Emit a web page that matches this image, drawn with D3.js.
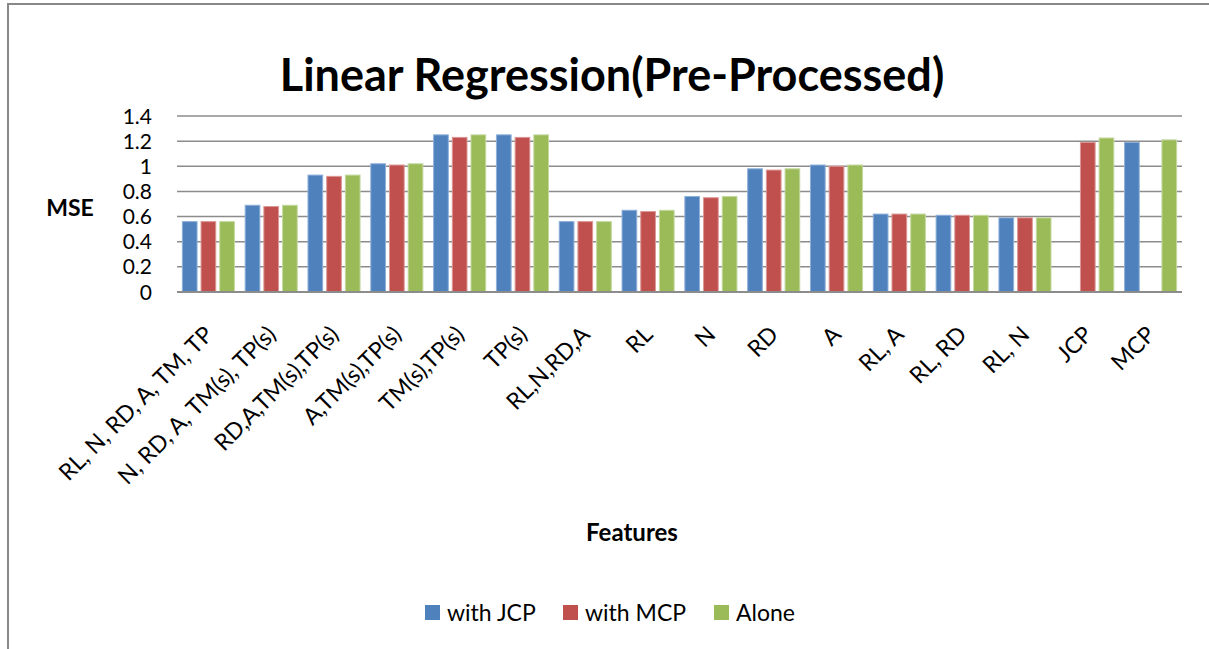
<!DOCTYPE html>
<html>
<head>
<meta charset="utf-8">
<script src="https://cdn.jsdelivr.net/npm/d3@7"></script>
<style>
  html, body { margin: 0; padding: 0; background: #fff; }
  svg { display: block; }
  text { font-family: Lato, "Open Sans", sans-serif; fill: #000; }
</style>
</head>
<body>
<svg id="chart" width="1209" height="649"></svg>
<script>
const categories = ["RL, N, RD, A, TM, TP", "N, RD, A, TM(s), TP(s)", "RD,A,TM(s),TP(s)", "A,TM(s),TP(s)",
  "TM(s),TP(s)", "TP(s)", "RL,N,RD,A", "RL", "N", "RD", "A", "RL, A", "RL, RD", "RL, N", "JCP", "MCP"];
const seriesNames = ["with JCP", "with MCP", "Alone"];
const withJCP = [0.56, 0.69, 0.93, 1.02, 1.25, 1.25, 0.56, 0.65, 0.76, 0.98, 1.01, 0.62, 0.61, 0.59, null, 1.19];
const withMCP = [0.56, 0.68, 0.92, 1.01, 1.23, 1.23, 0.56, 0.64, 0.75, 0.97, 1.00, 0.62, 0.61, 0.59, 1.19, null];
const alone   = [0.56, 0.69, 0.93, 1.02, 1.25, 1.25, 0.56, 0.65, 0.76, 0.98, 1.01, 0.62, 0.61, 0.59, 1.225, 1.21];
const yTicks = [0, 0.2, 0.4, 0.6, 0.8, 1, 1.2, 1.4];
const colors = ["#4f81bd", "#c0504d", "#9bbb59"];
const strokes = ["#8fb0d9", "#dc9896", "#c4d9a0"];

const seriesValues = [withJCP, withMCP, alone];
const svg = d3.select("#chart");

// outer border
svg.append("rect").attr("x", 8).attr("y", 4).attr("width", 1260).attr("height", 700)
  .attr("fill", "none").attr("stroke", "#888").attr("stroke-width", 2);

const plot = { left: 177, right: 1182, top: 116, bottom: 292 };

const x0 = d3.scaleBand().domain(categories).range([plot.left, plot.right])
  .paddingInner(0.107).paddingOuter(0.0535);
const x1 = d3.scaleBand().domain(seriesNames).range([0, x0.bandwidth()]);
const y = d3.scaleLinear().domain([0, 1.4]).range([plot.bottom, plot.top]);

// gridlines
svg.append("g").selectAll("line").data(yTicks).join("line")
  .attr("x1", plot.left).attr("x2", plot.right)
  .attr("y1", d => y(d)).attr("y2", d => y(d))
  .attr("stroke", "#8c8c8c").attr("stroke-width", 1.5);

// y tick labels
svg.append("g").selectAll("text").data(yTicks).join("text")
  .attr("x", 152).attr("y", d => y(d)).attr("dy", "0.36em")
  .attr("text-anchor", "end").style("font-size", "21px")
  .text(d => d3.format("~g")(d));

// bars
const barData = [];
categories.forEach((c, i) => {
  seriesNames.forEach((s, j) => {
    const v = seriesValues[j][i];
    if (v !== null) barData.push({ c, s, j, v });
  });
});
svg.append("g").selectAll("rect").data(barData).join("rect")
  .attr("x", d => x0(d.c) + x1(d.s) + 2)
  .attr("width", x1.bandwidth() - 4)
  .attr("y", d => y(d.v))
  .attr("height", d => y(0) - y(d.v))
  .attr("fill", d => colors[d.j])
  .attr("stroke", d => strokes[d.j]).attr("stroke-width", 1);

// x axis baseline
svg.append("line").attr("x1", plot.left).attr("x2", plot.right)
  .attr("y1", y(0)).attr("y2", y(0)).attr("stroke", "#8c8c8c").attr("stroke-width", 2);

// x labels
svg.append("g").selectAll("text").data(categories).join("text")
  .attr("transform", d => `translate(${x0(d) + x0.bandwidth() / 2 + 6},${plot.bottom + 44}) rotate(-45)`)
  .attr("text-anchor", "end").style("font-size", "23px")
  .text(d => d);

// title
svg.append("text").attr("x", 612).attr("y", 91).attr("text-anchor", "middle")
  .style("font-size", "45px").style("font-weight", "bold").text("Linear Regression(Pre-Processed)");

// axis titles
svg.append("text").attr("x", 70).attr("y", 216).attr("text-anchor", "middle")
  .style("font-size", "23px").style("font-weight", "bold").text("MSE");
svg.append("text").attr("x", 632).attr("y", 541).attr("text-anchor", "middle")
  .style("font-size", "24px").style("font-weight", "bold").text("Features");

// legend
const legendX = [425, 563, 714];
const lg = svg.append("g").selectAll("g").data(seriesNames).join("g")
  .attr("transform", (d, i) => `translate(${legendX[i]},605)`);
lg.append("rect").attr("width", 15).attr("height", 15).attr("fill", (d, i) => colors[i]);
lg.append("text").attr("x", 22).attr("y", 7.5).attr("dy", "0.36em")
  .style("font-size", "23px").text(d => d);
</script>
</body>
</html>
